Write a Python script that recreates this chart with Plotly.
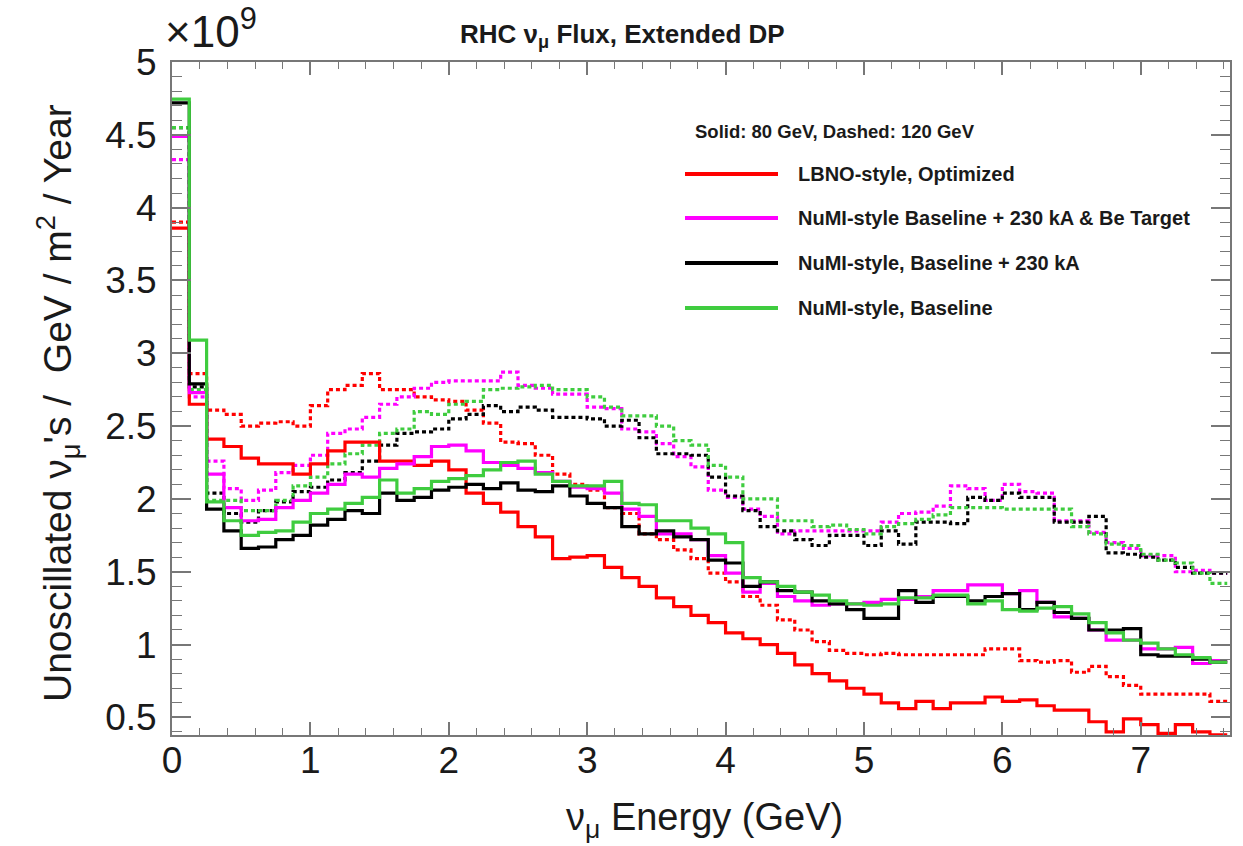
import plotly.graph_objects as go

# ---------------- data (units of 1e9 nu / GeV / m^2 / year) ----------------
bin_width = 0.125
n_bins = 61
bin_low_edges = [round(i * bin_width, 4) for i in range(n_bins + 1)]

lbno_80 = [3.86, 2.65, 2.41, 2.36, 2.28, 2.24, 2.24, 2.17, 2.24, 2.33,
           2.39, 2.39, 2.26, 2.26, 2.23, 2.26, 2.20, 2.04, 1.97, 1.91,
           1.81, 1.74, 1.59, 1.60, 1.61, 1.53, 1.46, 1.40, 1.32, 1.26,
           1.20, 1.15, 1.08, 1.04, 1.00, 0.94, 0.86, 0.80, 0.75, 0.70,
           0.66, 0.60, 0.56, 0.61, 0.56, 0.60, 0.60, 0.64, 0.61, 0.62,
           0.58, 0.55, 0.55, 0.47, 0.40, 0.49, 0.45, 0.39, 0.45, 0.40,
           0.38]
numi_be_80 = [4.49, 2.73, 2.17, 1.94, 1.85, 1.86, 1.94, 1.99, 2.04, 2.10,
              2.17, 2.15, 2.21, 2.24, 2.29, 2.36, 2.37, 2.33, 2.25, 2.23,
              2.21, 2.18, 2.12, 2.08, 2.07, 2.04, 1.93, 1.88, 1.76, 1.76,
              1.72, 1.61, 1.49, 1.36, 1.42, 1.33, 1.30, 1.27, 1.28, 1.28,
              1.29, 1.31, 1.31, 1.33, 1.37, 1.37, 1.41, 1.41, 1.35, 1.37,
              1.29, 1.19, 1.18, 1.10, 1.03, 1.03, 0.97, 0.97, 0.98, 0.87,
              0.89]
numi_230_80 = [4.72, 2.79, 1.93, 1.78, 1.66, 1.67, 1.72, 1.75, 1.82, 1.86,
               1.92, 1.90, 2.04, 1.99, 2.01, 2.06, 2.08, 2.10, 2.07, 2.11,
               2.06, 2.05, 2.09, 2.02, 1.97, 1.94, 1.81, 1.76, 1.78, 1.74,
               1.72, 1.58, 1.56, 1.40, 1.43, 1.37, 1.36, 1.30, 1.28, 1.24,
               1.18, 1.18, 1.37, 1.29, 1.33, 1.33, 1.30, 1.33, 1.35, 1.24,
               1.29, 1.22, 1.18, 1.10, 1.10, 1.11, 0.93, 0.92, 0.92, 0.90,
               0.88]
numi_base_80 = [4.745, 3.09, 1.98, 1.85, 1.75, 1.77, 1.78, 1.84, 1.90, 1.93,
                1.97, 2.01, 2.13, 2.04, 2.07, 2.12, 2.14, 2.16, 2.20, 2.25,
                2.26, 2.17, 2.12, 2.09, 2.09, 2.12, 1.97, 1.96, 1.85, 1.85,
                1.80, 1.76, 1.70, 1.46, 1.43, 1.40, 1.36, 1.34, 1.30, 1.28,
                1.27, 1.28, 1.32, 1.32, 1.34, 1.34, 1.28, 1.30, 1.24, 1.23,
                1.25, 1.26, 1.21, 1.15, 1.08, 1.03, 1.01, 0.97, 0.93, 0.91,
                0.88]

lbno_120 = [3.90, 2.86, 2.61, 2.58, 2.50, 2.52, 2.53, 2.50, 2.64, 2.75,
            2.78, 2.86, 2.75, 2.75, 2.70, 2.68, 2.67, 2.61, 2.52, 2.39,
            2.38, 2.30, 2.17, 2.10, 2.06, 1.94, 1.90, 1.76, 1.72, 1.65,
            1.59, 1.49, 1.43, 1.33, 1.27, 1.17, 1.10, 1.02, 0.96, 0.94,
            0.93, 0.94, 0.93, 0.93, 0.93, 0.93, 0.93, 0.97, 0.97, 0.89,
            0.88, 0.89, 0.81, 0.85, 0.78, 0.72, 0.66, 0.66, 0.66, 0.66,
            0.61]
numi_be_120 = [4.33, 2.70, 2.26, 2.07, 1.99, 2.06, 2.18, 2.23, 2.30, 2.45,
               2.48, 2.56, 2.65, 2.70, 2.76, 2.80, 2.81, 2.81, 2.81, 2.87,
               2.78, 2.76, 2.72, 2.72, 2.63, 2.62, 2.48, 2.46, 2.38, 2.29,
               2.22, 2.06, 2.01, 1.93, 1.88, 1.76, 1.78, 1.78, 1.78, 1.78,
               1.78, 1.84, 1.90, 1.91, 1.95, 2.09, 2.07, 1.99, 2.10, 2.05,
               2.04, 1.85, 1.85, 1.77, 1.70, 1.66, 1.61, 1.61, 1.50, 1.51,
               1.49]
numi_230_120 = [4.55, 2.77, 2.04, 1.90, 1.84, 1.92, 1.98, 2.05, 2.08, 2.13,
                2.18, 2.26, 2.37, 2.45, 2.46, 2.48, 2.55, 2.58, 2.64, 2.60,
                2.63, 2.61, 2.56, 2.56, 2.55, 2.50, 2.54, 2.42, 2.31, 2.31,
                2.30, 2.15, 2.02, 1.92, 1.81, 1.78, 1.72, 1.68, 1.75, 1.75,
                1.68, 1.78, 1.69, 1.84, 1.84, 1.83, 2.01, 1.99, 2.04, 2.01,
                2.01, 1.84, 1.84, 1.88, 1.63, 1.62, 1.60, 1.58, 1.53, 1.49,
                1.49]
numi_base_120 = [4.55, 2.75, 1.99, 1.99, 1.92, 1.92, 1.99, 2.09, 2.15, 2.24,
                 2.31, 2.37, 2.45, 2.48, 2.60, 2.58, 2.65, 2.67, 2.75, 2.76,
                 2.77, 2.78, 2.75, 2.75, 2.70, 2.63, 2.57, 2.57, 2.50, 2.40,
                 2.37, 2.23, 2.15, 2.00, 2.00, 1.85, 1.85, 1.81, 1.82, 1.79,
                 1.76, 1.81, 1.83, 1.86, 1.89, 1.94, 1.94, 1.94, 1.93, 1.93,
                 1.93, 1.93, 1.81, 1.76, 1.69, 1.68, 1.62, 1.58, 1.56, 1.49,
                 1.42]

series_labels = ["LBNO-style, Optimized",
                 "NuMI-style Baseline + 230 kA & Be Target",
                 "NuMI-style, Baseline + 230 kA",
                 "NuMI-style, Baseline"]
series_colors = ["#ff0000", "#ff00ff", "#000000", "#3fcc3f"]

yticks = [0.5, 1, 1.5, 2, 2.5, 3, 3.5, 4, 4.5, 5]
yticktext = ["0.5", "1", "1.5", "2", "2.5", "3", "3.5", "4", "4.5", "5"]
xticks = [0, 1, 2, 3, 4, 5, 6, 7]

X_RANGE = [0, 7.645]
Y_RANGE = [0.379, 5.0]

W, H = 1243, 846
ML, MR, MT, MB = 172, 13, 62, 111
PW, PH = W - ML - MR, H - MT - MB

def px(xp):
    return (xp - ML) / PW

def py(yp):
    return (H - MB - yp) / PH

FONT = "Liberation Sans, Arial, Helvetica, sans-serif"
TXT = "#1a1a1a"

fig = go.Figure()

def add_hist(vals, color, dash):
    xs = list(bin_low_edges)
    ys = list(vals) + [vals[-1]]
    fig.add_trace(go.Scatter(x=xs, y=ys, mode="lines", line_shape="hv",
                             line=dict(color=color, width=3.2, dash=dash),
                             showlegend=False, hoverinfo="skip"))

dotted = [lbno_120, numi_be_120, numi_230_120, numi_base_120]
solid = [lbno_80, numi_be_80, numi_230_80, numi_base_80]
for vals, c in zip(dotted, series_colors):
    add_hist(vals, c, "4px,3px")
for vals, c in zip(solid, series_colors):
    add_hist(vals, c, "solid")

# dummy trace for mirrored (top/right) tick axes
fig.add_trace(go.Scatter(x=[], y=[], xaxis="x2", yaxis="y2",
                         showlegend=False, hoverinfo="skip"))

axcol = "#777777"
common = dict(showgrid=False, zeroline=False, showline=True, linecolor=axcol,
              linewidth=2, ticks="inside", tickcolor=axcol, tickwidth=1.5)

fig.update_layout(
    width=W, height=H,
    margin=dict(l=ML, r=MR, t=MT, b=MB),
    paper_bgcolor="white", plot_bgcolor="white",
    font=dict(family=FONT, color=TXT),
    xaxis=dict(range=X_RANGE, tickvals=xticks, ticklen=13,
               tickfont=dict(size=37, color=TXT), ticklabelstandoff=-8,
               minor=dict(dtick=0.2, tick0=0, ticklen=7, ticks="inside",
                          tickcolor=axcol, tickwidth=1.2),
               **common),
    yaxis=dict(range=Y_RANGE, tickvals=yticks, ticktext=yticktext, ticklen=19,
               tickfont=dict(size=37, color=TXT), ticklabelstandoff=6,
               minor=dict(dtick=0.1, tick0=0, ticklen=10, ticks="inside",
                          tickcolor=axcol, tickwidth=1.2),
               **common),
    xaxis2=dict(range=X_RANGE, overlaying="x", side="top", anchor="y2",
                tickvals=xticks, ticklen=13, showticklabels=False,
                minor=dict(dtick=0.2, tick0=0, ticklen=7, ticks="inside",
                           tickcolor=axcol, tickwidth=1.2),
                **common),
    yaxis2=dict(range=Y_RANGE, overlaying="y", side="right", anchor="x2",
                tickvals=yticks, ticklen=19, showticklabels=False,
                minor=dict(dtick=0.1, tick0=0, ticklen=10, ticks="inside",
                           tickcolor=axcol, tickwidth=1.2),
                **common),
)

ann = []
# title
ann.append(dict(text="<b>RHC ν<sub>μ</sub> Flux, Extended DP</b>",
                x=px(622), y=py(36), xref="paper", yref="paper",
                xanchor="center", yanchor="middle", showarrow=False,
                font=dict(size=26, family=FONT, color=TXT)))
# exponent
ann.append(dict(text="×10<sup>9</sup>", x=px(163), y=py(58),
                xref="paper", yref="paper", xanchor="left", yanchor="bottom",
                showarrow=False, font=dict(size=44, family=FONT, color=TXT)))
# axis titles
ann.append(dict(text="ν<sub>μ</sub> Energy (GeV)", x=px(704), y=py(820),
                xref="paper", yref="paper", xanchor="center", yanchor="middle",
                showarrow=False, font=dict(size=38, family=FONT, color=TXT)))
ann.append(dict(text="Unoscillated ν<sub>μ</sub>'s /  GeV / m<sup>2</sup> / Year",
                x=px(58), y=py(403), xref="paper", yref="paper",
                xanchor="center", yanchor="middle", textangle=-90,
                showarrow=False, font=dict(size=39, family=FONT, color=TXT)))
# legend header
ann.append(dict(text="<b>Solid: 80 GeV, Dashed: 120 GeV</b>", x=px(693), y=py(131),
                xref="paper", yref="paper", xanchor="left", yanchor="middle",
                showarrow=False, font=dict(size=18.5, family=FONT, color=TXT)))

shapes = []
leg_y = [174, 218, 263, 308]
for lab, col, ly in zip(series_labels, series_colors, leg_y):
    shapes.append(dict(type="line", xref="paper", yref="paper",
                       x0=px(685), x1=px(778), y0=py(ly), y1=py(ly),
                       line=dict(color=col, width=4)))
    ann.append(dict(text="<b>" + lab + "</b>", x=px(796), y=py(ly),
                    xref="paper", yref="paper", xanchor="left", yanchor="middle",
                    showarrow=False, font=dict(size=20, family=FONT, color=TXT)))

fig.update_layout(annotations=ann, shapes=shapes)
fig.write_html("out.html")
